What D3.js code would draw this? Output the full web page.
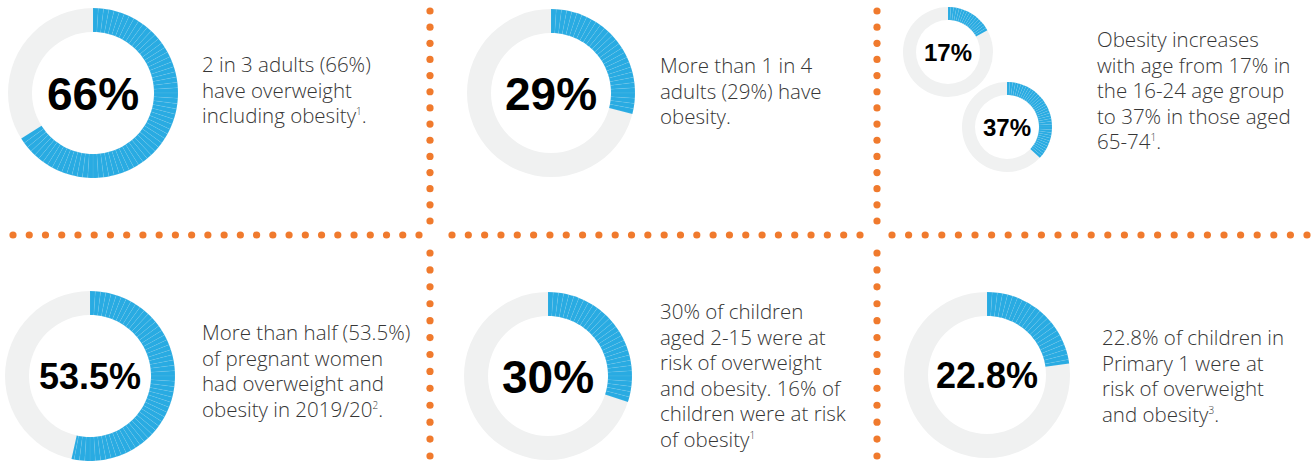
<!DOCTYPE html>
<html>
<head>
<meta charset="utf-8">
<script src="https://d3js.org/d3.v7.min.js"></script>
<style>
body { margin: 0; background: #fff; }
.big { font-family: "Liberation Sans", Arial, sans-serif; font-weight: bold; fill: #000; }
.desc { font-family: "Open Sans", sans-serif; font-weight: 300; fill: #363636; font-size: 20.5px; }
</style>
</head>
<body>
<div id="chart"></div>
<script>
// values shown in each donut
var labels = ["66%", "29%", "17%", "37%", "53.5%", "30%", "22.8%"];
var values = [66, 29, 17, 37, 53.5, 30, 22.8];

// text blocks, "^n" = superscript
var descriptions = [
  ["2 in 3 adults (66%)", "have overweight", "including obesity^1."],
  ["More than 1 in 4", "adults (29%) have", "obesity."],
  ["Obesity increases", "with age from 17% in", "the 16-24 age group", "to 37% in those aged", "65-74^1."],
  ["More than half (53.5%)", "of pregnant women", "had overweight and", "obesity in 2019/20^2."],
  ["30% of children", "aged 2-15 were at", "risk of overweight", "and obesity. 16% of", "children were at risk", "of obesity^1"],
  ["22.8% of children in", "Primary 1 were at", "risk of overweight", "and obesity^3."]
];

var width = 1312, height = 461;

var svg = d3.select("#chart")
  .append("svg")
    .attr("width", width)
    .attr("height", height);

// donut layout: centre, radius, font size
var donuts = [
  {cx: 93,   cy: 93,  r: 85, w: 24, fs: 46},
  {cx: 551,  cy: 93,  r: 84, w: 24, fs: 46},
  {cx: 948,  cy: 52,  r: 45, w: 13, fs: 24},
  {cx: 1007, cy: 127, r: 45, w: 13, fs: 24},
  {cx: 90,   cy: 376, r: 85, w: 24, fs: 36},
  {cx: 548,  cy: 376, r: 84, w: 24, fs: 46},
  {cx: 987,  cy: 375, r: 83, w: 24, fs: 36}
];

var angle = d3.scaleLinear().domain([0, 100]).range([0, 2 * Math.PI]);

donuts.forEach(function(d, i) {
  var g = svg.append("g").attr("transform", "translate(" + d.cx + "," + d.cy + ")");
  var arc = d3.arc().innerRadius(d.r - d.w).outerRadius(d.r);

  g.append("path")
    .attr("d", arc({startAngle: 0, endAngle: 2 * Math.PI}))
    .attr("fill", "#f0f1f1");

  // blue part drawn as 1% slices
  var steps = d3.range(0, values[i], 1);
  g.selectAll(".seg")
    .data(steps)
    .enter()
    .append("path")
      .attr("class", "seg")
      .attr("d", function(k) {
        return arc({startAngle: angle(k), endAngle: angle(Math.min(k + 1, values[i]))});
      })
      .attr("fill", "#29abe2")
      .attr("stroke", "rgba(255,255,255,0.22)")
      .attr("stroke-width", 0.3);

  g.append("text")
    .attr("class", "big")
    .attr("text-anchor", "middle")
    .attr("dy", "0.36em")
    .style("font-size", d.fs + "px")
    .text(labels[i]);
});

// description text positions
var textPos = [
  {x: 202,  y: 72},
  {x: 660,  y: 73},
  {x: 1097, y: 47},
  {x: 202,  y: 340},
  {x: 660,  y: 319},
  {x: 1102, y: 345}
];
var lineH = 25.6;

descriptions.forEach(function(lines, i) {
  var t = svg.append("text")
    .attr("class", "desc")
    .attr("x", textPos[i].x)
    .attr("y", textPos[i].y);
  lines.forEach(function(line, j) {
    var parts = line.split(/\^(\d)/);
    parts.forEach(function(p, k) {
      if (p === "") return;
      var ts = t.append("tspan");
      if (k === 0) ts.attr("x", textPos[i].x).attr("y", textPos[i].y + j * lineH);
      if (k % 2 === 1) {
        ts.style("font-size", "10px").attr("dy", -8).text(p);
      } else if (k > 0) {
        ts.attr("dy", 8).text(p);
      } else {
        ts.text(p);
      }
    });
  });
});

// orange dotted separators
var dotColor = "#f07a2d";
var dotSegments = [
  {x1: 13,  y1: 235, x2: 419,  y2: 235, n: 26},
  {x1: 452, y1: 235, x2: 860,  y2: 235, n: 26},
  {x1: 892, y1: 235, x2: 1307, y2: 235, n: 26},
  {x1: 430, y1: 11,  x2: 430,  y2: 221, n: 14},
  {x1: 430, y1: 253, x2: 430,  y2: 456, n: 13},
  {x1: 877, y1: 11,  x2: 877,  y2: 221, n: 14},
  {x1: 877, y1: 253, x2: 877,  y2: 456, n: 13}
];
dotSegments.forEach(function(s) {
  var t = d3.scaleLinear().domain([0, s.n - 1]);
  var xs = t.copy().range([s.x1, s.x2]);
  var ys = t.copy().range([s.y1, s.y2]);
  svg.append("g").selectAll("circle")
    .data(d3.range(s.n))
    .enter()
    .append("circle")
      .attr("cx", function(k) { return xs(k); })
      .attr("cy", function(k) { return ys(k); })
      .attr("r", 3.6)
      .attr("fill", dotColor);
});
</script>
</body>
</html>
